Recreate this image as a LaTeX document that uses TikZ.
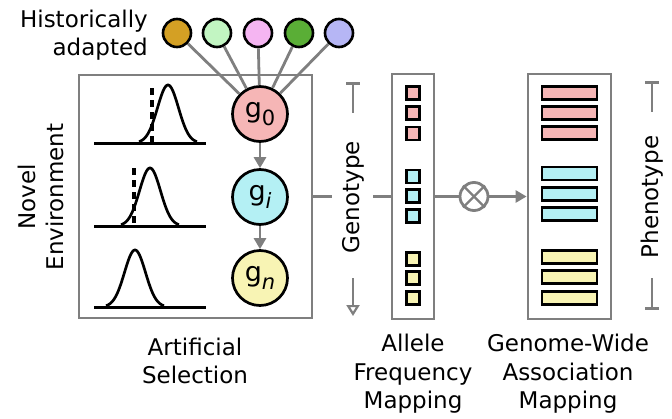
\documentclass[tikz,border=0pt]{standalone}
\usepackage{fontspec}
\setmainfont{DejaVu Sans}
\usetikzlibrary{arrows.meta}
\definecolor{gr}{HTML}{7F7F7F}
\definecolor{cred}{HTML}{F6B6B6}
\definecolor{ccyan}{HTML}{B4F0F4}
\definecolor{cyel}{HTML}{F8F4B4}
\definecolor{cgold}{HTML}{D4A024}
\definecolor{clgreen}{HTML}{C2F5C2}
\definecolor{cpink}{HTML}{F5B5F2}
\definecolor{cgreen}{HTML}{5AAE36}
\definecolor{clav}{HTML}{B6B6F5}
\begin{document}
\begin{tikzpicture}[x=1pt,y=-1pt,
  lbl/.style={font=\fontsize{23}{28.5}\selectfont, align=center, inner sep=0pt},
  anc/.style={circle, draw=black, line width=2.6pt, minimum size=28pt, inner sep=0pt},
  gnode/.style={circle, draw=black, line width=2.7pt, minimum size=55pt, inner sep=0pt, font=\fontsize{27}{27}\selectfont},
  gbox/.style={draw=gr, line width=2.8pt, inner sep=0pt, fill=white},
  sq/.style={draw=black, line width=2.3pt, minimum size=13pt, inner sep=0pt},
  bar/.style={draw=black, line width=2.3pt, minimum width=55pt, minimum height=13pt, inner sep=0pt},
  gline/.style={draw=gr, line width=2.8pt},
  curve/.style={draw=black, line width=2.7pt},
  base/.style={draw=black, line width=3pt},
  dashln/.style={draw=black, line width=3.5pt, dash pattern=on 7pt off 5pt}
]
\useasboundingbox (0,0) rectangle (672,418);

% main box
\node[gbox, minimum width=233pt, minimum height=243pt] (sel) at (195.5,196.5) {};
% allele box
\node[gbox, minimum width=42pt, minimum height=245pt] (afm) at (413,196.5) {};
% gwas box
\node[gbox, minimum width=83pt, minimum height=245pt] (gwas) at (569.5,196.5) {};

% historical circles
\node[anc, fill=cgold] (h1) at (177,33) {};
\node[anc, fill=clgreen] (h2) at (217,33) {};
\node[anc, fill=cpink] (h3) at (258,33) {};
\node[anc, fill=cgreen] (h4) at (299,33) {};
\node[anc, fill=clav] (h5) at (339,33) {};

% g nodes
\node[gnode, fill=cred] (g0) at (260,114) {g\raisebox{-0.28em}{\fontsize{21}{21}\selectfont 0}};
\node[gnode, fill=ccyan] (gi) at (260,197) {g\raisebox{-0.28em}{\fontsize{21}{21}\selectfont\itshape i}};
\node[gnode, fill=cyel] (gn) at (260,278) {g\raisebox{-0.28em}{\fontsize{21}{21}\selectfont\itshape n}};

\foreach \h in {h1,h2,h3,h4,h5} \draw[gline] (\h) -- (g0);
\draw[gline, -{Triangle[length=11pt,width=12pt]}] (g0) -- (gi);
\draw[gline, -{Triangle[length=11pt,width=12pt]}] (gi) -- (gn);

% distributions
\draw[base] (94,143) -- (206,143);
\draw[base] (94,226) -- (206,226);
\draw[base] (94,307) -- (206,307);
\draw[curve] plot[domain=139:197, samples=60, smooth] (\x,{143-58*exp(-((\x-168)/10.5)^2/2)});
\draw[curve] plot[domain=121:179, samples=60, smooth] (\x,{226-58*exp(-((\x-150)/10.5)^2/2)});
\draw[curve] plot[domain=106:164, samples=60, smooth] (\x,{307-57*exp(-((\x-135)/10.5)^2/2)});
\draw[dashln] (152,88) -- (152,143);
\draw[dashln] (134,168) -- (134,226);

% allele squares
\node[sq, fill=cred] (a1) at (413,93) {};
\node[sq, fill=cred] (a2) at (413,113) {};
\node[sq, fill=cred] (a3) at (413,133.5) {};
\node[sq, fill=ccyan] (a4) at (413,176.5) {};
\node[sq, fill=ccyan] (a5) at (413,196) {};
\node[sq, fill=ccyan] (a6) at (413,216) {};
\node[sq, fill=cyel] (a7) at (413,259) {};
\node[sq, fill=cyel] (a8) at (413,278) {};
\node[sq, fill=cyel] (a9) at (413,298) {};

% gwas bars
\node[bar, fill=cred] (b1) at (569.5,93) {};
\node[bar, fill=cred] (b2) at (569.5,113) {};
\node[bar, fill=cred] (b3) at (569.5,133) {};
\node[bar, fill=ccyan] (b4) at (569.5,173.5) {};
\node[bar, fill=ccyan] (b5) at (569.5,194) {};
\node[bar, fill=ccyan] (b6) at (569.5,214) {};
\node[bar, fill=cyel] (b7) at (569.5,257) {};
\node[bar, fill=cyel] (b8) at (569.5,277) {};
\node[bar, fill=cyel] (b9) at (569.5,298) {};

% genotype
\coordinate (gl1) at (332,196.5);
\coordinate (gl2) at (373,196.5);
\draw[gline] (sel.east |- gl1) -- (gl1);
\draw[gline] (gl2) -- (afm.west |- gl2);
\node[lbl, rotate=90] (geno) at (353,197) {Genotype};
\coordinate (gt1) at (353,82);
\coordinate (gt2) at (353,113);
\coordinate (gb1) at (353,278);
\coordinate (gb2) at (353,316);
\draw[gline, {Bar[width=14pt]}-] (gt1) -- (gt2);
\draw[gline, -{Triangle[open, length=11pt, width=13pt, line width=2.2pt]}] (gb1) -- (gb2);

% otimes
\node[circle, draw=gr, line width=2.8pt, minimum size=28pt, inner sep=0pt] (ot) at (474,196.5) {};
\draw[gline, line width=2.4pt] (ot.45) -- (ot.225);
\draw[gline, line width=2.4pt] (ot.135) -- (ot.-45);
\draw[gline] (afm.east |- ot) -- (ot);
\draw[gline, -{Triangle[length=11pt,width=12pt]}] (ot) -- (gwas.west |- ot);

% phenotype
\node[lbl, rotate=90] (pheno) at (652,197) {Phenotype};
\coordinate (pt1) at (652,81);
\coordinate (pt2) at (652,112);
\coordinate (pb1) at (652,278);
\coordinate (pb2) at (652,310);
\draw[gline, {Bar[width=14pt]}-] (pt1) -- (pt2);
\draw[gline, -{Bar[width=14pt]}] (pb1) -- (pb2);

% labels
\node[lbl, align=right, anchor=east] (hist) at (148,35) {Historically\\adapted};
\node[lbl, rotate=90] (novel) at (41,197) {Novel\\Environment};
\node[lbl] (artsel) at (195,361) {Artificial\\Selection};
\node[lbl] (aflbl) at (413,374) {Allele\\Frequency\\Mapping};
\node[lbl] (gwlbl) at (568,374) {Genome-Wide\\Association\\Mapping};
\end{tikzpicture}
\end{document}
